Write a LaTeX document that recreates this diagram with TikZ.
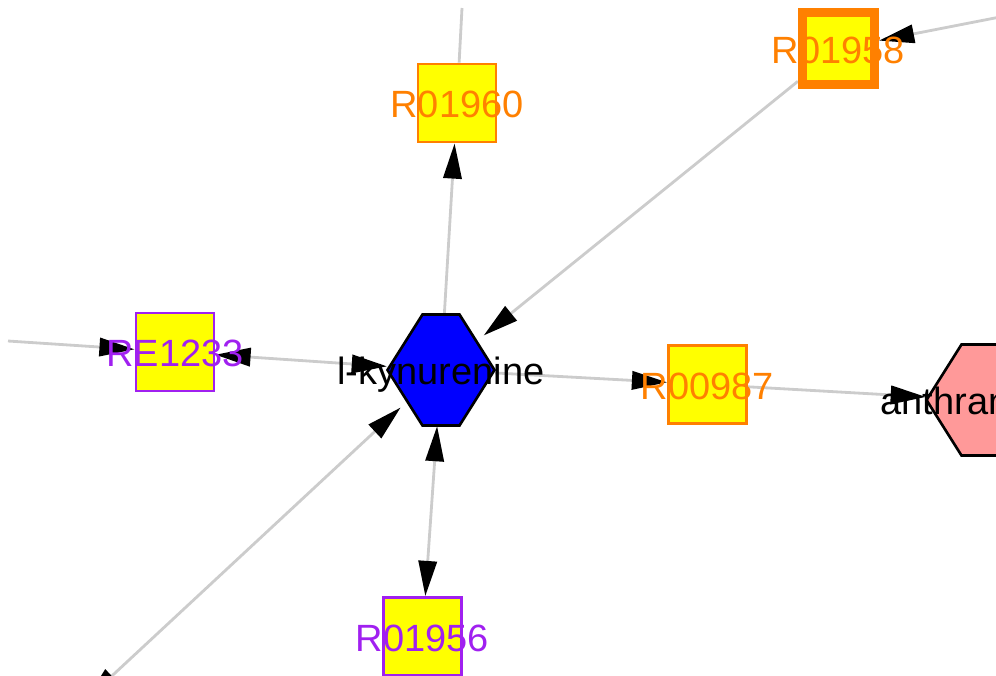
\documentclass[tikz,border=0pt]{standalone}
\usepackage{fontspec}
\setmainfont{Liberation Sans}
\usetikzlibrary{arrows.meta}
\usetikzlibrary{shapes.geometric}
\usetikzlibrary{backgrounds}
\definecolor{rxnorange}{RGB}{255,128,0}
\definecolor{rxnpurple}{RGB}{160,32,240}
\definecolor{rxnyellow}{RGB}{255,255,0}
\definecolor{cpdblue}{RGB}{0,0,255}
\definecolor{cpdpink}{RGB}{255,153,153}
\definecolor{linkgray}{RGB}{204,204,204}

\tikzset{
	>={Triangle[length=10pt,width=5.2pt,color=black]},
	link/.style={draw=linkgray, line width=0.8pt},
	rxn/.style={rectangle, fill=rxnyellow, line width=0.8pt, minimum size=0.78cm, inner sep=0pt, text height=8.5pt, text depth=0pt, font=\fontsize{10.8}{13}\selectfont},
	cpd/.style={ellipse, minimum width=1.07cm, minimum height=1.11cm, inner sep=0pt, text height=8.5pt, text depth=0pt, font=\fontsize{10.8}{13}\selectfont},
	hexline/.style={draw=black, line width=0.75pt},
}

\begin{document}
\begin{tikzpicture}[x=0.01cm, y=-0.01cm]
	\useasboundingbox (0,0) rectangle (996,675);
	\clip (0,0) rectangle (996,675);
	
	% compounds
	\filldraw[hexline, fill=cpdblue] (441,370) ++(-53.5,0) -- ++(35,-55.5) -- ++(37,0) -- ++(35,55.5) -- ++(-35,55.5) -- ++(-37,0) -- cycle;
	\filldraw[hexline, fill=cpdpink] (980,400) ++(-53.5,0) -- ++(35,-55.5) -- ++(37,0) -- ++(35,55.5) -- ++(-35,55.5) -- ++(-37,0) -- cycle;
	\node[cpd] (kyn) at (441,370) {\makebox[0pt]{l-kynurenine}};
	\node[cpd] (anth) at (980,400) {\makebox[0pt]{anthranilate}};
	
	% reactions
	\node[rxn, draw=rxnorange, text=rxnorange] (r1960) at (457,103) {\makebox[0pt]{R01960}};
	\node[rxn, draw=rxnorange, text=rxnorange, line width=2.6pt, minimum size=0.72cm] (r1958) at (838.5,48.5) {\makebox[0pt]{R01958}};
	\node[rxn, draw=rxnpurple, text=rxnpurple] (re1233) at (175,352) {\makebox[0pt]{RE1233}};
	\node[rxn, draw=rxnorange, text=rxnorange] (r0987) at (707.5,384.5) {\makebox[0pt]{R00987}};
	\node[rxn, draw=rxnpurple, text=rxnpurple] (r1956) at (422.5,636.5) {\makebox[0pt]{R01956}};
	
	% loose ends
	\coordinate (up) at (462,8);
	\coordinate (upright) at (1000,17);
	\coordinate (left) at (8,341);
	\coordinate (downleft) at (86,700);
	
	\begin{scope}[on background layer]
		\draw[link] (up) -- (r1960);
		\draw[link, ->] (kyn) -- (r1960);
		\draw[link, ->] (upright) -- (r1958);
		\draw[link, ->] (r1958) -- (kyn);
		\draw[link, ->] (left) -- (re1233);
		\draw[link, <->] (kyn) -- (re1233);
		\draw[link, ->] (kyn) -- (r0987);
		\draw[link, ->] (r0987) -- (anth);
		\draw[link, <->] (kyn) -- (r1956);
		\draw[link, <->] (kyn) -- (downleft);
	\end{scope}
	
\end{tikzpicture}
\end{document}
